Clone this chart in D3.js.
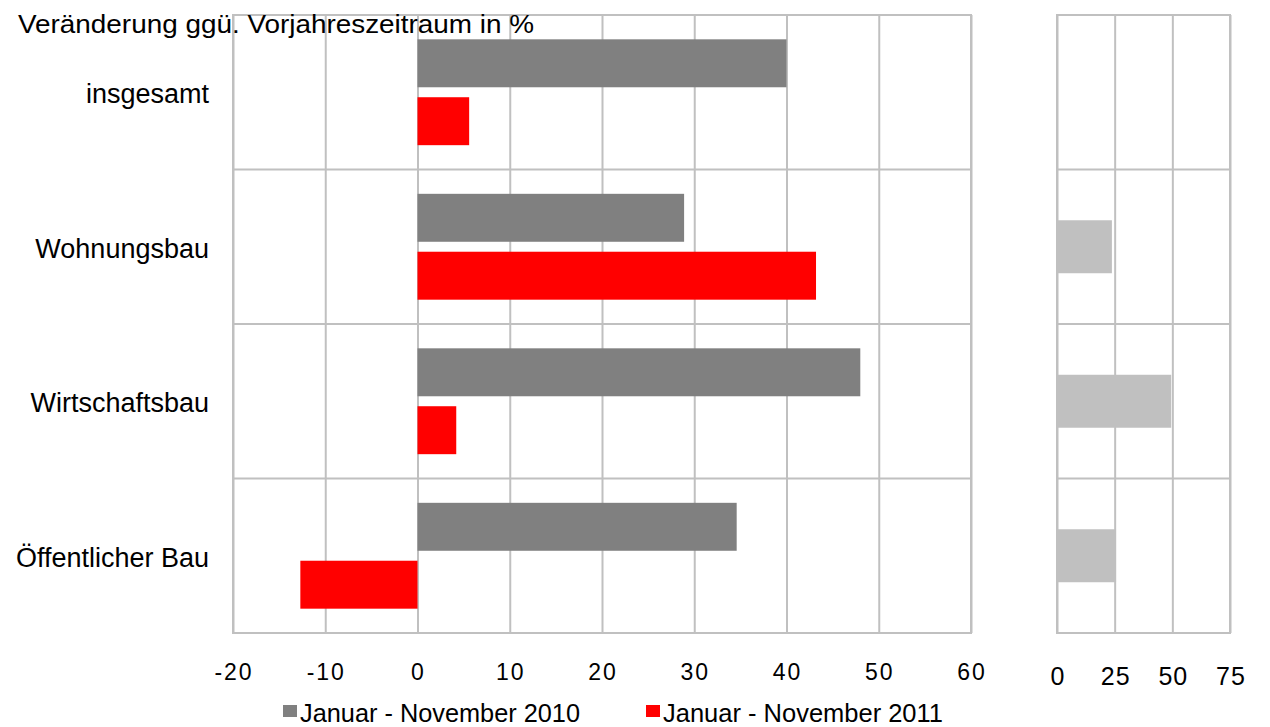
<!DOCTYPE html>
<html>
<head>
<meta charset="utf-8">
<script src="https://cdn.jsdelivr.net/npm/d3@7"></script>
<style>
  body { margin: 0; background: #fff; }
  svg { display: block; font-family: "Liberation Sans", Arial, sans-serif; }
</style>
</head>
<body>
<div id="chart"></div>
<script>
const categories = ["insgesamt", "Wohnungsbau", "Wirtschaftsbau", "Öffentlicher Bau"];
const values2010 = [40.0, 28.9, 48.0, 34.6];
const values2011 = [5.6, 43.2, 4.2, -12.7];
const sideValues = [null, 23.8, 49.5, 25.6];
const mainTicks = [-20, -10, 0, 10, 20, 30, 40, 50, 60];
const sideTicks = [0, 25, 50, 75];
const seriesNames = ["Januar - November 2010", "Januar - November 2011"];
const subtitle = "Veränderung ggü. Vorjahreszeitraum in %";

const W = 1270, H = 727;
const gridColor = "#c0c0c0";
const colors = ["#808080", "#ff0000"];

const svg = d3.select("#chart").append("svg").attr("width", W).attr("height", H);

const plotTop = 15, plotBottom = 633;

// main panel scales
const x = d3.scaleLinear().domain([-20, 60]).range([233, 971]);
const y = d3.scaleBand().domain(categories).range([plotTop, plotBottom]);
const sub = d3.scaleBand().domain([0, 1]).range([0, y.bandwidth()])
  .paddingInner(0.172).paddingOuter(0.42);

// side panel scales
const xs = d3.scaleLinear().domain([0, 75]).range([1057, 1230]);
const ys = d3.scaleBand().domain(categories).range([plotTop, plotBottom])
  .paddingInner(0.657).paddingOuter(0.3285);

function drawGrid(g, xScale, ticks) {
  g.append("g")
    .attr("transform", `translate(0,${plotBottom})`)
    .call(d3.axisBottom(xScale).tickValues(ticks).tickSize(-(plotBottom - plotTop)).tickFormat(""))
    .call((a) => a.select(".domain").remove())
    .call((a) => a.selectAll("line").attr("stroke", gridColor).attr("stroke-width", 2));

  g.append("g")
    .selectAll("line")
    .data(categories.slice(1))
    .join("line")
    .attr("x1", xScale.range()[0])
    .attr("x2", xScale.range()[1])
    .attr("y1", (d) => y(d))
    .attr("y2", (d) => y(d))
    .attr("stroke", gridColor)
    .attr("stroke-width", 2);

  g.append("rect")
    .attr("x", xScale.range()[0])
    .attr("y", plotTop)
    .attr("width", xScale.range()[1] - xScale.range()[0])
    .attr("height", plotBottom - plotTop)
    .attr("fill", "none")
    .attr("stroke", gridColor)
    .attr("stroke-width", 2);
}

drawGrid(svg.append("g"), x, mainTicks);
drawGrid(svg.append("g"), xs, sideTicks);

// main bars
[values2010, values2011].forEach((vals, i) => {
  svg.append("g")
    .selectAll("rect")
    .data(vals)
    .join("rect")
    .attr("x", (d) => x(Math.min(0, d)))
    .attr("width", (d) => Math.abs(x(d) - x(0)))
    .attr("y", (d, j) => y(categories[j]) + sub(i))
    .attr("height", sub.bandwidth())
    .attr("fill", colors[i]);
});

// side bars
svg.append("g")
  .selectAll("rect")
  .data(categories.map((c, j) => ({ c, v: sideValues[j] })).filter((d) => d.v != null))
  .join("rect")
  .attr("x", xs(0))
  .attr("width", (d) => xs(d.v) - xs(0))
  .attr("y", (d) => ys(d.c))
  .attr("height", ys.bandwidth())
  .attr("fill", "#c0c0c0");

// category labels
svg.append("g")
  .selectAll("text")
  .data(categories)
  .join("text")
  .attr("x", 209)
  .attr("y", (d) => y(d) + y.bandwidth() / 2 + 11)
  .attr("text-anchor", "end")
  .attr("font-size", 27)
  .text((d) => d);

// tick labels
svg.append("g")
  .selectAll("text")
  .data(mainTicks)
  .join("text")
  .attr("x", (d) => x(d) + 1)
  .attr("y", 680)
  .attr("text-anchor", "middle")
  .attr("font-size", 23)
  .attr("letter-spacing", 2)
  .text((d) => d);

svg.append("g")
  .selectAll("text")
  .data(sideTicks)
  .join("text")
  .attr("x", (d) => xs(d) + 1)
  .attr("y", 685)
  .attr("text-anchor", "middle")
  .attr("font-size", 25)
  .attr("letter-spacing", 1)
  .text((d) => d);

// subtitle
svg.append("text")
  .attr("x", 18)
  .attr("y", 33)
  .attr("font-size", 25)
  .attr("textLength", 516)
  .attr("lengthAdjust", "spacingAndGlyphs")
  .text(subtitle);

// legend
const legendX = [283, 646];
const legend = svg.append("g")
  .selectAll("g")
  .data(seriesNames)
  .join("g")
  .attr("transform", (d, i) => `translate(${legendX[i]},705)`);
legend.append("rect").attr("width", 14).attr("height", 12).attr("fill", (d, i) => colors[i]);
legend.append("text")
  .attr("x", 17)
  .attr("y", 17)
  .attr("font-size", 25)
  .attr("textLength", 280)
  .attr("lengthAdjust", "spacingAndGlyphs")
  .text((d) => d);
</script>
</body>
</html>
